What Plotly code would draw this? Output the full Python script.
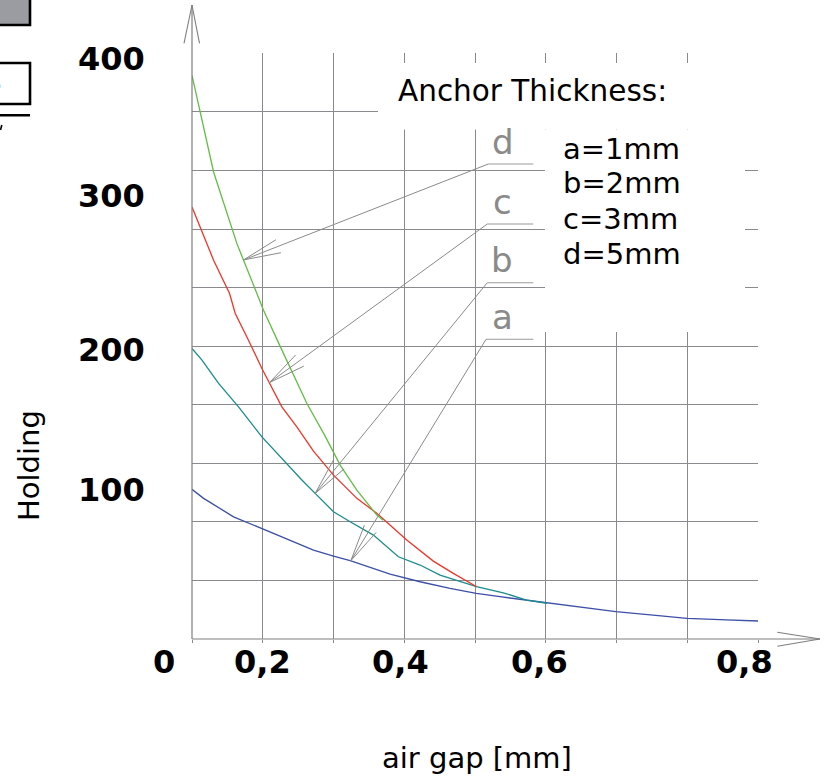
import math
import plotly.graph_objects as go

# ---------------- data ----------------
# a = 1 mm anchor
gap_a = [0, 0.0164, 0.0587, 0.0988, 0.1293, 0.1717, 0.2, 0.2235, 0.28, 0.3223,
         0.3647, 0.4018, 0.4353, 0.502, 0.548, 0.599, 0.6517, 0.6997, 0.7553, 0.8]
force_a = [103, 96.8, 84.1, 76.1, 69.9, 61.2, 57.1, 53.9, 44.7, 39.4,
           34.9, 31.4, 29.1, 24.8, 22.0, 18.8, 16.5, 14.2, 13.1, 12.4]
# b = 2 mm anchor
gap_b = [0, 0.0141, 0.0376, 0.0658, 0.0988, 0.1223, 0.1553, 0.1741, 0.2, 0.2235,
         0.2564, 0.2917, 0.3223, 0.3506, 0.3788, 0.4021, 0.44, 0.473, 0.5016]
force_b = [200, 191.9, 175.9, 159.8, 139.1, 126.5, 109.4, 100.2, 87.6, 80.7,
           71.5, 56.6, 50.9, 44.0, 39.4, 36.0, 31.8, 26.8, 24.6]
# c = 3 mm anchor
gap_c = [0, 0.0305, 0.0531, 0.0611, 0.0776, 0.0988, 0.127, 0.1482, 0.1717, 0.2,
         0.233, 0.2612, 0.3035, 0.3411, 0.3693, 0.4024]
force_c = [297.3, 260.7, 237.8, 224.0, 207.9, 186.2, 159.8, 146.0, 129.3, 112.8,
           96.8, 86.5, 68.1, 53.6, 45.2, 36.0]
# d = 5 mm anchor
gap_d = [0, 0.0305, 0.0635, 0.1011, 0.1271, 0.1624, 0.1882, 0.2094, 0.233, 0.2612, 0.2701]
force_d = [387.9, 321.4, 272.1, 226.3, 198.8, 162.1, 139.6, 119.7, 102.5, 85.3, 81.8]

# tick labels (as placed in the reference drawing)
x_tick_vals = [-0.0399, 0.0992, 0.294, 0.4917, 0.7811]
x_tick_text = ["0", "0,2", "0,4", "0,6", "0,8"]
y_tick_vals = [102.5, 199, 305, 399]
y_tick_text = ["100", "200", "300", "400"]

legend_lines = ["a=1mm", "b=2mm", "c=3mm", "d=5mm"]
callout_names = ["d", "c", "b", "a"]
callout_tip_x = [0.0729, 0.1096, 0.1741, 0.2245]
callout_tip_y = [260.9, 176.5, 100.2, 53.9]

# ---------------- layout geometry ----------------
W, H = 826, 778
L, R, T, B = 192, 68, 53, 139
X_RANGE = [0, 0.8]
Y_RANGE = [0, 403.3]
PW, PH = W - L - R, H - T - B

def xp(p):  # pixel -> paper x
    return (p - L) / PW

def yp(p):  # pixel -> paper y
    return (H - B - p) / PH

def d2px_x(v):
    return L + (v - X_RANGE[0]) / (X_RANGE[1] - X_RANGE[0]) * PW

def d2px_y(v):
    return H - B - (v - Y_RANGE[0]) / (Y_RANGE[1] - Y_RANGE[0]) * PH

GRID = "#8a8a8e"
FONT = "DejaVu Sans"

fig = go.Figure()
series = [
    (gap_a, force_a, "#3d4fa6", "a=1mm"),
    (gap_b, force_b, "#1a8c8c", "b=2mm"),
    (gap_c, force_c, "#f0352a", "c=3mm"),
    (gap_d, force_d, "#62bd45", "d=5mm"),
]
for gx, gy, col, nm in series:
    fig.add_trace(go.Scatter(x=gx, y=gy, mode="lines", name=nm,
                             line=dict(color=col, width=1.3), showlegend=False))

shapes = []
def line(x0, y0, x1, y1, color=GRID, width=1.1):
    shapes.append(dict(type="line", xref="paper", yref="paper",
                       x0=xp(x0), y0=yp(y0), x1=xp(x1), y1=yp(y1),
                       line=dict(color=color, width=width), layer="above"))

def rect(x0, y0, x1, y1, fill, lc=None, lw=0):
    shapes.append(dict(type="rect", xref="paper", yref="paper",
                       x0=xp(x0), y0=yp(y0), x1=xp(x1), y1=yp(y1),
                       fillcolor=fill, line=dict(color=lc or fill, width=lw), layer="above"))

# white boxes behind the legend text
rect(378, 63, 770, 129.5, "white")
rect(545, 129.5, 745, 332, "white")

# axes with arrows
ax0 = d2px_x(0)
ay0 = d2px_y(0)
line(ax0, ay0, ax0, 5, "#7f7f7f", 1.2)
line(ax0, 5, ax0 - 8, 43.3, "#7f7f7f", 1.1)
line(ax0, 5, ax0 + 7.5, 43.3, "#7f7f7f", 1.1)
line(ax0, ay0, 820, ay0, "#7f7f7f", 1.2)
line(820, ay0, 777.3, ay0 - 6.8, "#7f7f7f", 1.1)
line(820, ay0, 777.3, ay0 + 7.2, "#7f7f7f", 1.1)

# call-outs
label_px = [(503, 164), (502, 224), (502, 282.7), (502, 339.3)]
ul_x0 = [488.3, 487.3, 487.3, 486]
for i, name in enumerate(callout_names):
    tx, ty = d2px_x(callout_tip_x[i]), d2px_y(callout_tip_y[i])
    lx, ly = ul_x0[i], label_px[i][1]
    line(lx, ly, 533.3, ly, "#9a9a9a", 1.1)
    line(tx, ty, lx, ly, "#8a8a8a", 1.0)
    ang = math.atan2(ly - ty, lx - tx)
    for s in (-1, 1):
        a2 = ang + s * math.radians(10.5)
        line(tx, ty, tx + 38 * math.cos(a2), ty + 38 * math.sin(a2), "#8a8a8a", 1.0)

# cropped fragments at the top-left corner of the original
rect(-5, -5, 30, 25, "#9b9ca1", "black", 2.6)
rect(-5, 63, 30, 104, "white", "black", 2.6)
line(-5, 115.3, 30, 115.3, "black", 2.6)
line(1.8, 125, 0.5, 130, "black", 1.6)

ann = []
for v, t in zip(x_tick_vals, x_tick_text):
    ann.append(dict(x=xp(d2px_x(v)), xref="paper", y=yp(662), yref="paper", text=t,
                    showarrow=False, xanchor="center", yanchor="middle",
                    font=dict(family=FONT, size=32, color="black", weight="bold")))
for v, t in zip(y_tick_vals, y_tick_text):
    ann.append(dict(x=xp(147), xref="paper", y=yp(d2px_y(v)), yref="paper", text=t,
                    showarrow=False, xanchor="right", yanchor="middle",
                    font=dict(family=FONT, size=32, color="black", weight="bold")))

ann.append(dict(x=xp(477), y=yp(758), xref="paper", yref="paper", text="air gap [mm]",
                showarrow=False, xanchor="center", yanchor="middle",
                font=dict(family=FONT, size=29, color="black")))
ann.append(dict(x=xp(29), y=yp(466), xref="paper", yref="paper", text="Holding",
                showarrow=False, textangle=-90, xanchor="center", yanchor="middle",
                font=dict(family=FONT, size=29, color="black")))
ann.append(dict(x=xp(396), y=yp(110), xref="paper", yref="paper", text="Anchor Thickness:",
                showarrow=False, xanchor="left", yanchor="bottom",
                font=dict(family=FONT, size=29.5, color="black")))
legend_baselines = [160, 194, 230, 265]
for t, bl in zip(legend_lines, legend_baselines):
    ann.append(dict(x=xp(561), y=yp(bl + 7.8), xref="paper", yref="paper",
                    text=t, showarrow=False, xanchor="left", yanchor="bottom",
                    font=dict(family=FONT, size=29, color="black")))
for i, name in enumerate(callout_names):
    ann.append(dict(x=xp(label_px[i][0]), y=yp(label_px[i][1] - 0.5), xref="paper", yref="paper",
                    text=name, showarrow=False, xanchor="center", yanchor="bottom",
                    font=dict(family=FONT, size=34, color="#8a8a8a")))
ann.append(dict(x=xp(3.5), y=yp(84), xref="paper", yref="paper", text="5",
                showarrow=False, xanchor="right", yanchor="middle",
                font=dict(family=FONT, size=20, color="black")))

fig.update_layout(
    width=W, height=H,
    margin=dict(l=L, r=R, t=T, b=B, pad=0),
    paper_bgcolor="white", plot_bgcolor="white",
    shapes=shapes, annotations=ann,
    xaxis=dict(range=X_RANGE, dtick=0.1, tick0=0, showgrid=True, gridcolor=GRID, gridwidth=1.1,
               zeroline=False, showline=False, showticklabels=False,
               ticks="outside", ticklen=3, tickcolor=GRID),
    yaxis=dict(range=Y_RANGE, dtick=40.3, tick0=0, showgrid=True, gridcolor=GRID, gridwidth=1.1,
               zeroline=False, showline=False, showticklabels=False, ticks=""),
)

fig.write_html("out.html", config={"displayModeBar": False},
               post_script="document.body.style.margin='0';document.body.style.padding='0';"
                           "document.documentElement.style.overflow='hidden';")
